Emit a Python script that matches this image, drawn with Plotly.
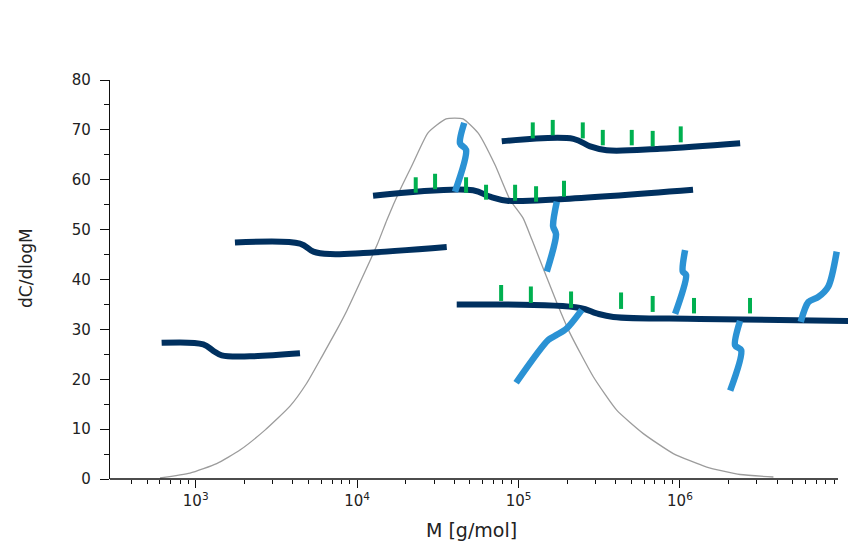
import plotly.graph_objects as go

# ---- molecular weight distribution (gray curve) ----
mwd_M = [601, 922, 1349, 1880, 2685, 3838, 4870, 6040, 7480, 8650, 13280, 15310,
         18450, 22190, 27480, 35560, 45290, 56100, 71450, 88500, 106700, 121300,
         173400, 208500, 290500, 405500, 593000, 909000, 1466000, 2360000, 3793000]
mwd_val = [0.2, 1.2, 3.1, 5.8, 9.8, 14.6, 19.2, 24.5, 29.9, 33.8, 46.9, 52.0,
           58.0, 63.3, 69.4, 72.2, 72.2, 69.4, 63.0, 56.0, 52.3, 47.9,
           35.2, 29.2, 20.5, 13.8, 9.1, 5.1, 2.4, 0.9, 0.4]

# ---- schematic polymer backbones (navy) ----
chainA_M = [615, 1114, 1285, 1449, 2168, 4426]
chainA_y = [27.3, 27.0, 25.7, 24.8, 24.6, 25.2]
chainB_M = [1750, 4426, 5360, 6800, 10900, 35900]
chainB_y = [47.4, 47.2, 45.6, 45.1, 45.3, 46.5]
chainC_M = [12550, 52200, 66500, 84900, 180800, 1205000]
chainC_y = [56.8, 57.9, 56.6, 55.8, 56.1, 58.0]
chainD_M = [78700, 218800, 277300, 351600, 753000, 2360000]
chainD_y = [67.7, 68.2, 66.7, 65.9, 66.2, 67.3]
chainE_M = [41400, 240400, 304800, 386500, 1331000, 11000000]
chainE_y = [35.0, 34.3, 33.2, 32.5, 32.1, 31.7]

# ---- long-chain branches (light blue) ----
branch1_M = [46100, 43400, 47300, 40400]
branch1_y = [71.4, 67.3, 66.0, 57.6]
branch2_M = [172600, 163700, 170700, 149600]
branch2_y = [55.6, 50.7, 49.1, 41.6]
branch3_M = [246500, 199000, 172600, 153000, 96600]
branch3_y = [33.9, 30.2, 28.9, 27.9, 19.3]
branch4_M = [1076000, 1041000, 1091000, 933000]
branch4_y = [45.9, 41.6, 40.9, 33.1]
branch5_M = [2356000, 2195000, 2396000, 2047000]
branch5_y = [31.7, 26.8, 25.8, 17.7]
branch6_M = [5598000, 6247000, 7200000, 8300000, 9357000]
branch6_y = [31.5, 35.5, 36.5, 38.6, 45.6]

# ---- short-chain branches (green ticks): position, bottom, top ----
scbC_M = [23070, 30400, 47300, 62900, 95200, 128400, 191300]
scbC_lo = [57.4, 58.1, 57.4, 56.0, 55.8, 55.6, 56.6]
scbC_hi = [60.5, 61.2, 60.5, 59.0, 59.0, 58.7, 59.8]
scbD_M = [122500, 162900, 250000, 332600, 502700, 677700, 1011000]
scbD_lo = [68.3, 68.9, 68.3, 66.9, 66.9, 66.7, 67.5]
scbD_hi = [71.5, 72.0, 71.5, 70.0, 70.0, 69.8, 70.7]
scbE_M = [78000, 119200, 211500, 431600, 677700, 1222000, 2717000]
scbE_lo = [35.7, 35.3, 34.3, 34.1, 33.5, 33.2, 33.2]
scbE_hi = [38.9, 38.6, 37.6, 37.4, 36.7, 36.3, 36.3]

# ---- axis ticks ----
x_major = [1e3, 1e4, 1e5, 1e6]
x_major_text = ["10<sup>3</sup>", "10<sup>4</sup>", "10<sup>5</sup>", "10<sup>6</sup>"]
x_minor = [m * d for d in (1e2, 1e3, 1e4, 1e5, 1e6) for m in range(2, 10) if 350 < m * d < 9.5e6]

NAVY = "#00305f"
BLUE = "#2b92d4"
GREEN = "#00b050"
FONT = "DejaVu Sans"

fig = go.Figure()
fig.add_trace(go.Scatter(x=mwd_M, y=mwd_val, mode="lines",
                         line=dict(color="#9c9c9c", width=1.3, shape="spline", smoothing=0.5),
                         hoverinfo="skip"))

for xs, ys in [(chainA_M, chainA_y), (chainB_M, chainB_y), (chainC_M, chainC_y),
               (chainD_M, chainD_y), (chainE_M, chainE_y)]:
    fig.add_trace(go.Scatter(x=xs, y=ys, mode="lines",
                             line=dict(color=NAVY, width=6, shape="spline", smoothing=1.0),
                             hoverinfo="skip"))

gx, gy = [], []
for ms, lo, hi in [(scbC_M, scbC_lo, scbC_hi), (scbD_M, scbD_lo, scbD_hi), (scbE_M, scbE_lo, scbE_hi)]:
    for m, a, b in zip(ms, lo, hi):
        gx += [m, m, None]
        gy += [a, b, None]
fig.add_trace(go.Scatter(x=gx, y=gy, mode="lines", line=dict(color=GREEN, width=4),
                         hoverinfo="skip"))

for xs, ys in [(branch1_M, branch1_y), (branch2_M, branch2_y), (branch3_M, branch3_y),
               (branch4_M, branch4_y), (branch5_M, branch5_y), (branch6_M, branch6_y)]:
    fig.add_trace(go.Scatter(x=xs, y=ys, mode="lines",
                             line=dict(color=BLUE, width=6.5, shape="spline", smoothing=0.8),
                             hoverinfo="skip"))

fig.update_layout(
    width=848, height=543,
    margin=dict(l=110, r=0, t=80, b=64),
    paper_bgcolor="white", plot_bgcolor="white",
    showlegend=False,
    font=dict(family=FONT, color="#222222"),
    xaxis=dict(type="log", range=[2.469, 7.041], showline=False, showgrid=False, zeroline=False,
               tickmode="array", tickvals=x_major, ticktext=x_major_text,
               ticks="outside", ticklen=8, tickwidth=1.3, tickcolor="#111111",
               tickfont=dict(family=FONT, size=15, color="#222222"),
               minor=dict(tickmode="array", tickvals=x_minor, ticks="outside",
                          ticklen=4, tickwidth=1.3, tickcolor="#111111", showgrid=False)),
    yaxis=dict(range=[0, 80], showline=True, linecolor="#111111", linewidth=1.3,
               showgrid=False, zeroline=False, dtick=10, tick0=0,
               ticks="outside", ticklen=9, tickwidth=1.3, tickcolor="#111111",
               tickfont=dict(family=FONT, size=15, color="#222222"),
               ticklabelstandoff=6,
               minor=dict(dtick=5, ticks="outside", ticklen=5, tickwidth=1.3,
                          tickcolor="#111111", showgrid=False)),
    shapes=[dict(type="line", xref="paper", yref="paper", x0=0, x1=(838 - 110) / 738,
                 y0=0, y1=0, line=dict(color="#111111", width=1.3))],
    annotations=[
        dict(text="M [g/mol]", xref="paper", yref="paper", x=(471 - 110) / 738,
             y=(479 - 530) / 399, xanchor="center", yanchor="middle", showarrow=False,
             font=dict(family=FONT, size=19, color="#222222")),
        dict(text="dC/dlogM", xref="paper", yref="paper", x=(26 - 110) / 738,
             y=(479 - 268) / 399, xanchor="center", yanchor="middle", showarrow=False,
             textangle=-90, font=dict(family=FONT, size=17, color="#222222")),
    ],
)

fig.write_html("out.html")
